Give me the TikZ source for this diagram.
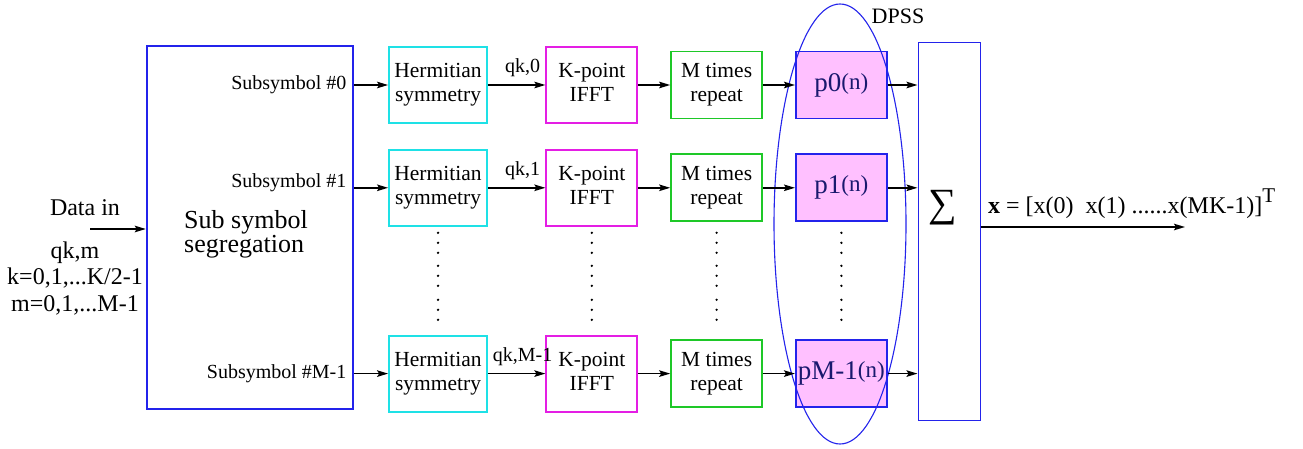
\documentclass[tikz,border=0pt]{standalone}
\usepackage{fontspec}
\setmainfont{Liberation Serif}
\usepackage{tikz}
\usetikzlibrary{matrix,arrows.meta}

\definecolor{segblue}{RGB}{35,35,235}
\definecolor{hermcyan}{RGB}{30,225,230}
\definecolor{fftpink}{RGB}{228,30,228}
\definecolor{repgreen}{RGB}{30,200,40}
\definecolor{dpssfill}{RGB}{255,192,255}
\definecolor{pnavy}{RGB}{25,25,110}

\newcommand{\twoline}[2]{\begin{tabular}{@{}c@{}}#1\\#2\end{tabular}}
\newcommand{\pfun}[1]{{\fontsize{27}{30}\selectfont p#1}\raisebox{2pt}{\fontsize{23}{26}\selectfont(n)}}

\tikzset{
  >={Stealth[length=11pt, width=6.5pt, inset=2pt]},
  blk/.style={draw, line width=1.8pt, inner sep=0pt, anchor=center, font=\fontsize{21.5}{24}\selectfont},
  hermbox/.style={blk, draw=hermcyan, minimum width=98pt, minimum height=76pt},
  fftbox/.style={blk, draw=fftpink, minimum width=91pt, minimum height=76pt},
  repbox/.style={blk, draw=repgreen, minimum width=91pt, minimum height=67pt},
  dpssbox/.style={blk, draw=segblue, fill=dpssfill, text=pnavy, minimum width=91pt, minimum height=67pt},
  lbl/.style={font=\fontsize{20}{22}\selectfont, inner sep=0pt},
  biglbl/.style={font=\fontsize{24}{26.5}\selectfont, inner sep=0pt},
  sig/.style={line width=1.7pt}
}

\begin{document}
\begin{tikzpicture}[x=1pt, y=-1pt]
  \useasboundingbox (0,0) rectangle (1303,449);

  \node (seg) [draw=segblue, line width=2.4pt, minimum width=206pt, minimum height=363pt,
    label={[font=\fontsize{26}{24}\selectfont, align=left, xshift=-4pt, yshift=-7pt]center:Sub symbol\\segregation}]
    at (250,227.5) {};

  \matrix (m) [matrix of nodes, anchor=m-1-1.center, row sep=25pt, column sep=32pt,
    column 1/.style={nodes=hermbox}, column 2/.style={nodes=fftbox},
    column 3/.style={nodes=repbox}, column 4/.style={nodes=dpssbox}] at (438,85)
  {
  \twoline{Hermitian}{symmetry} &[25.5pt] \twoline{K-point}{IFFT} & \twoline{M times}{repeat} & \pfun{0} \\
  \twoline{Hermitian}{symmetry} &[25.5pt] \twoline{K-point}{IFFT} & \twoline{M times}{repeat} & \pfun{1} \\[83pt]
  \twoline{Hermitian}{symmetry} &[25.5pt] \twoline{K-point}{IFFT} & \twoline{M times}{repeat} & \pfun{M-1} \\
  };

  \node (sum) [draw=segblue, line width=1pt, minimum width=62pt, minimum height=377pt, inner sep=0pt] at (949,231.5) {};
  \node [font=\fontsize{40}{44}\selectfont, inner sep=0pt] at ([xshift=-6pt,yshift=24pt]sum.center) {∑};

  \draw[segblue, line width=1.1pt] (840,224) ellipse [x radius=66, y radius=220];
  \node [font=\fontsize{22}{24}\selectfont] at (898,16) {DPSS};

  % input side
  \coordinate (din) at (90,229);
  \draw[->, sig] (din) -- (din -| seg.west);
  \node [biglbl, anchor=base] at (85,215) {Data in};
  \node [biglbl, anchor=base, align=center] at (75,311) {qk,m\\k=0,1,...K/2-1\\m=0,1,...M-1};

  \path[->, sig]
  (seg.east |- m-1-1) edge node [lbl, pos=0, anchor=east, xshift=-7pt] {Subsymbol \#0} (m-1-1)
  (seg.east |- m-2-1) edge node [lbl, pos=0, anchor=east, xshift=-7pt, yshift=5pt] {Subsymbol \#1} (m-2-1)
  (seg.east |- m-3-1) edge node [lbl, pos=0, anchor=east, xshift=-7pt] {Subsymbol \#M-1} (m-3-1)
  (m-1-1) edge node [lbl, above, xshift=6pt, yshift=7pt] {qk,0} (m-1-2)
  (m-2-1) edge node [lbl, above, xshift=6pt, yshift=7pt] {qk,1} (m-2-2)
  (m-3-1) edge node [lbl, above, xshift=6pt, yshift=7pt] {qk,M-1} (m-3-2)
  (m-1-2) edge (m-1-3)
  (m-2-2) edge (m-2-3)
  (m-3-2) edge (m-3-3)
  (m-1-3) edge (m-1-4)
  (m-2-3) edge (m-2-4)
  (m-3-3) edge (m-3-4)
  (m-1-4) edge (m-1-4 -| sum.west)
  (m-2-4) edge (m-2-4 -| sum.west)
  (m-3-4) edge (m-3-4 -| sum.west)
  ;

  % dots between rows
  \foreach \c in {1,...,4}
    \foreach \d in {45,55,65,78,88,98,112,122,132}
      \fill ([yshift=-\d pt]m-2-\c.center) circle (1.3pt);

  % output
  \coordinate (xout) at (1185,227);
  \draw[->, sig] (sum.east |- xout) -- (xout);
  \node [biglbl, anchor=base west] at (988,213)
    {\textbf{x} = [x(0)\ \ x(1) ......x(MK-1)]\raisebox{10pt}{\fontsize{21}{24}\selectfont T}};
\end{tikzpicture}
\end{document}
